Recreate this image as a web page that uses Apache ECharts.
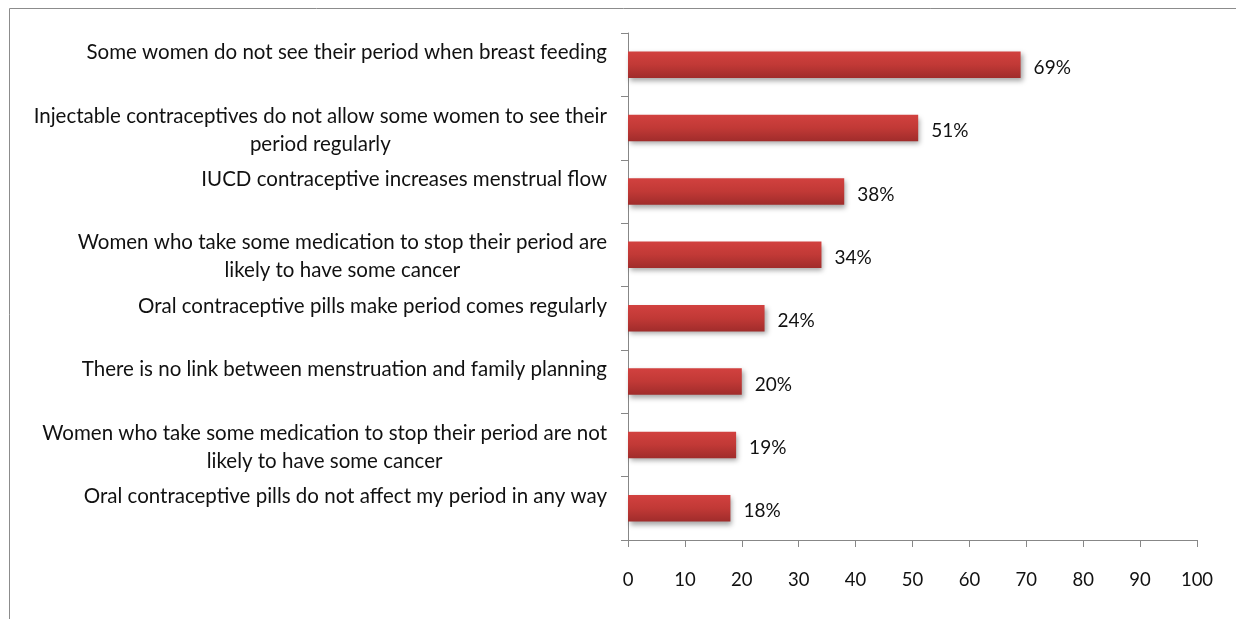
<!DOCTYPE html>
<html>
<head>
<meta charset="utf-8">
<script src="https://cdn.jsdelivr.net/npm/echarts@6/dist/echarts.min.js"></script>
<style>
  html, body { margin: 0; padding: 0; background: #ffffff; }
  #chart { width: 1236px; height: 619px; }
</style>
</head>
<body>
<div id="chart"></div>
<script>
// Statements about menstruation and family planning, top to bottom
const statements = [
  'Some women do not see their period when breast feeding',
  'Injectable contraceptives do not allow some women to see their\nperiod regularly',
  'IUCD contraceptive increases menstrual flow',
  'Women who take some medication to stop their period are\nlikely to have some cancer',
  'Oral contraceptive pills make period comes regularly',
  'There is no link between menstruation and family planning',
  'Women who take some medication to stop their period are not\nlikely to have some cancer',
  'Oral contraceptive pills do not affect my period in any way'
];
// Share of respondents agreeing (%)
const agreePct = [69, 51, 38, 34, 24, 20, 19, 18];
// Value axis ticks
const axisMin = 0;
const axisMax = 100;
const axisStep = 10;

const FONT = 'Lato, "Open Sans", sans-serif';
const chart = echarts.init(document.getElementById('chart'), null, { renderer: 'canvas' });

// Wrapped lines are centred on each other; a single line keeps an empty
// second line so it sits in the upper half of its band.
function categoryLabel(v) {
  const lines = v.split('\n');
  if (lines.length < 2) lines.push(' ');
  return lines.map(function (l) { return '{c|' + l + '}'; }).join('\n');
}

chart.setOption({
  animation: false,
  backgroundColor: '#ffffff',
  graphic: [{
    type: 'rect',
    shape: { x: 9.5, y: 8.5, width: 1240, height: 640 },
    style: { fill: 'none', stroke: '#8c8c8c', lineWidth: 1 },
    silent: true
  }],
  grid: { left: 628, right: 39, top: 33, bottom: 79, containLabel: false },
  xAxis: {
    type: 'value',
    min: axisMin,
    max: axisMax,
    interval: axisStep,
    splitLine: { show: false },
    axisLine: { show: true, lineStyle: { color: '#878787', width: 1 } },
    axisTick: { show: true, length: 7, lineStyle: { color: '#878787' } },
    axisLabel: { margin: 31, color: '#111', fontFamily: FONT, fontSize: 18.5 }
  },
  yAxis: {
    type: 'category',
    inverse: true,
    data: statements,
    axisLine: { show: true, lineStyle: { color: '#878787', width: 1 } },
    axisTick: { show: true, length: 7, alignWithLabel: false, lineStyle: { color: '#878787' } },
    axisLabel: {
      margin: 21,
      color: '#111',
      fontFamily: FONT,
      fontSize: 20.5,
      lineHeight: 28,
      align: 'right',
      padding: [4, 0, 0, 0],
      interval: 0,
      formatter: categoryLabel,
      rich: {
        c: {
          align: 'center',
          color: '#111',
          fontFamily: FONT,
          fontSize: 20.5,
          lineHeight: 28
        }
      }
    }
  },
  series: [{
    type: 'bar',
    data: agreePct,
    barWidth: '42%',
    itemStyle: {
      color: new echarts.graphic.LinearGradient(0, 0, 0, 1, [
        { offset: 0, color: '#d2413f' },
        { offset: 0.5, color: '#c13936' },
        { offset: 1, color: '#a02c2b' }
      ]),
      shadowColor: 'rgba(0,0,0,0.35)',
      shadowBlur: 5,
      shadowOffsetX: 2,
      shadowOffsetY: 3
    },
    label: {
      show: true,
      position: 'right',
      distance: 13,
      offset: [0, 3],
      color: '#111',
      fontFamily: FONT,
      fontSize: 19,
      formatter: '{c}%'
    }
  }]
});
</script>
</body>
</html>
